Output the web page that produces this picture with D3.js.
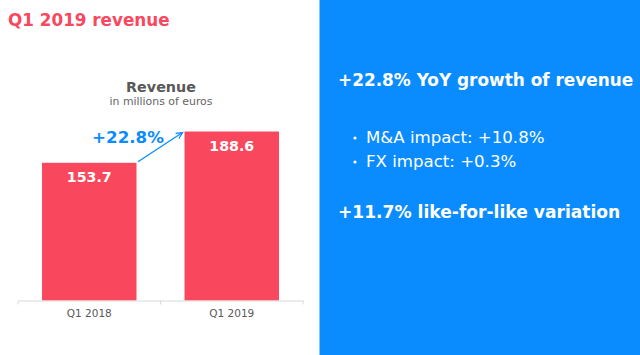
<!DOCTYPE html>
<html><head><meta charset="utf-8">
<script src="https://cdn.jsdelivr.net/npm/d3@7"></script>
<style>
html,body{margin:0;padding:0;background:#fff;}
svg{display:block;font-family:"DejaVu Sans",Verdana,sans-serif;}
</style></head>
<body>
<svg id="c" width="640" height="355"></svg>
<script>
const categories = ["Q1 2018", "Q1 2019"];
const revenue = [153.7, 188.6];
const growthLabel = "+22.8%";
const pageTitle = "Q1 2019 revenue";
const chartTitle = "Revenue";
const chartSubtitle = "in millions of euros";
const headline = "+22.8% YoY growth of revenue";
const bullets = ["M&A impact: +10.8%", "FX impact: +0.3%"];
const footline = "+11.7% like-for-like variation";

const RED = "#f9475e", BLUE = "#0a8cff", GRAY = "#595959";
const svg = d3.select("#c");

// right blue panel
svg.append("rect").attr("x", 319.5).attr("y", 0).attr("width", 320.5).attr("height", 355).attr("fill", BLUE);

// page title
svg.append("text").attr("x", 8).attr("y", 26).attr("fill", RED)
  .attr("font-size", 16.8).attr("font-weight", "bold").text(pageTitle);

// chart titles
svg.append("text").attr("x", 161).attr("y", 92).attr("text-anchor", "middle")
  .attr("fill", GRAY).attr("font-size", 14.3).attr("font-weight", "bold").text(chartTitle);
svg.append("text").attr("x", 161).attr("y", 105).attr("text-anchor", "middle")
  .attr("fill", "#666").attr("font-size", 10.9).text(chartSubtitle);

// scales
const x = d3.scaleBand().domain(categories).range([18, 303]).paddingInner(0.337).paddingOuter(0.1685);
const y = d3.scaleLinear().domain([0, 200]).range([300.5, 121.3]);

// bars
svg.selectAll("rect.bar").data(revenue).enter().append("rect").attr("class", "bar")
  .attr("x", (d, i) => x(categories[i])).attr("width", x.bandwidth())
  .attr("y", d => y(d)).attr("height", d => y(0) - y(d)).attr("fill", RED);

// value labels
svg.selectAll("text.val").data(revenue).enter().append("text").attr("class", "val")
  .attr("x", (d, i) => x(categories[i]) + x.bandwidth() / 2)
  .attr("y", d => y(d) + 19).attr("text-anchor", "middle")
  .attr("fill", "#fff").attr("font-size", 14.2).attr("font-weight", "bold")
  .text(d => d.toFixed(1));

// axis
const axis = d3.axisBottom(x).tickSize(0).tickPadding(9);
const ag = svg.append("g").attr("transform", `translate(0,${y(0)})`).call(axis);
ag.select(".domain").attr("stroke", "#d9d9d9").attr("stroke-width", 1);
ag.selectAll("text").attr("fill", GRAY).attr("font-size", 10.5)
  .attr("font-family", "DejaVu Sans, Verdana, sans-serif");
const bounds = [x.range()[0], (x.range()[0] + x.range()[1]) / 2, x.range()[1]];
ag.selectAll("line.tk").data(bounds).enter().append("line").attr("class", "tk")
  .attr("x1", d => d).attr("x2", d => d).attr("y1", 0).attr("y2", 4)
  .attr("stroke", "#d9d9d9");

// growth arrow
const x0 = x(categories[0]) + x.bandwidth() + 1.5, y0 = y(revenue[0]) - 1;
const x1 = x(categories[1]) - 2, y1 = y(revenue[1]) + 1;
svg.append("line").attr("x1", x0).attr("y1", y0).attr("x2", x1).attr("y2", y1)
  .attr("stroke", BLUE).attr("stroke-width", 1.3);
const ang = Math.atan2(y1 - y0, x1 - x0);
const ah = 7, spread = 0.45;
const head = [[x1 - ah * Math.cos(ang - spread), y1 - ah * Math.sin(ang - spread)], [x1, y1],
              [x1 - ah * Math.cos(ang + spread), y1 - ah * Math.sin(ang + spread)]];
svg.append("path").attr("d", d3.line()(head)).attr("fill", "none")
  .attr("stroke", BLUE).attr("stroke-width", 1.3);
svg.append("text").attr("x", 128).attr("y", 142.5).attr("text-anchor", "middle")
  .attr("fill", BLUE).attr("font-size", 16.7).attr("font-weight", "bold").text(growthLabel);

// right panel text
svg.append("text").attr("x", 338).attr("y", 86).attr("fill", "#fff")
  .attr("font-size", 16.9).attr("font-weight", "bold").text(headline);
bullets.forEach((b, i) => {
  const yy = 142.5 + i * 24;
  svg.append("circle").attr("cx", 355).attr("cy", yy - 4.5).attr("r", 1.6).attr("fill", "#fff");
  svg.append("text").attr("x", 366).attr("y", yy).attr("fill", "#fff")
    .attr("font-size", 16.6).text(b);
});
svg.append("text").attr("x", 338).attr("y", 218).attr("fill", "#fff")
  .attr("font-size", 17.1).attr("font-weight", "bold").text(footline);
</script>
</body></html>
